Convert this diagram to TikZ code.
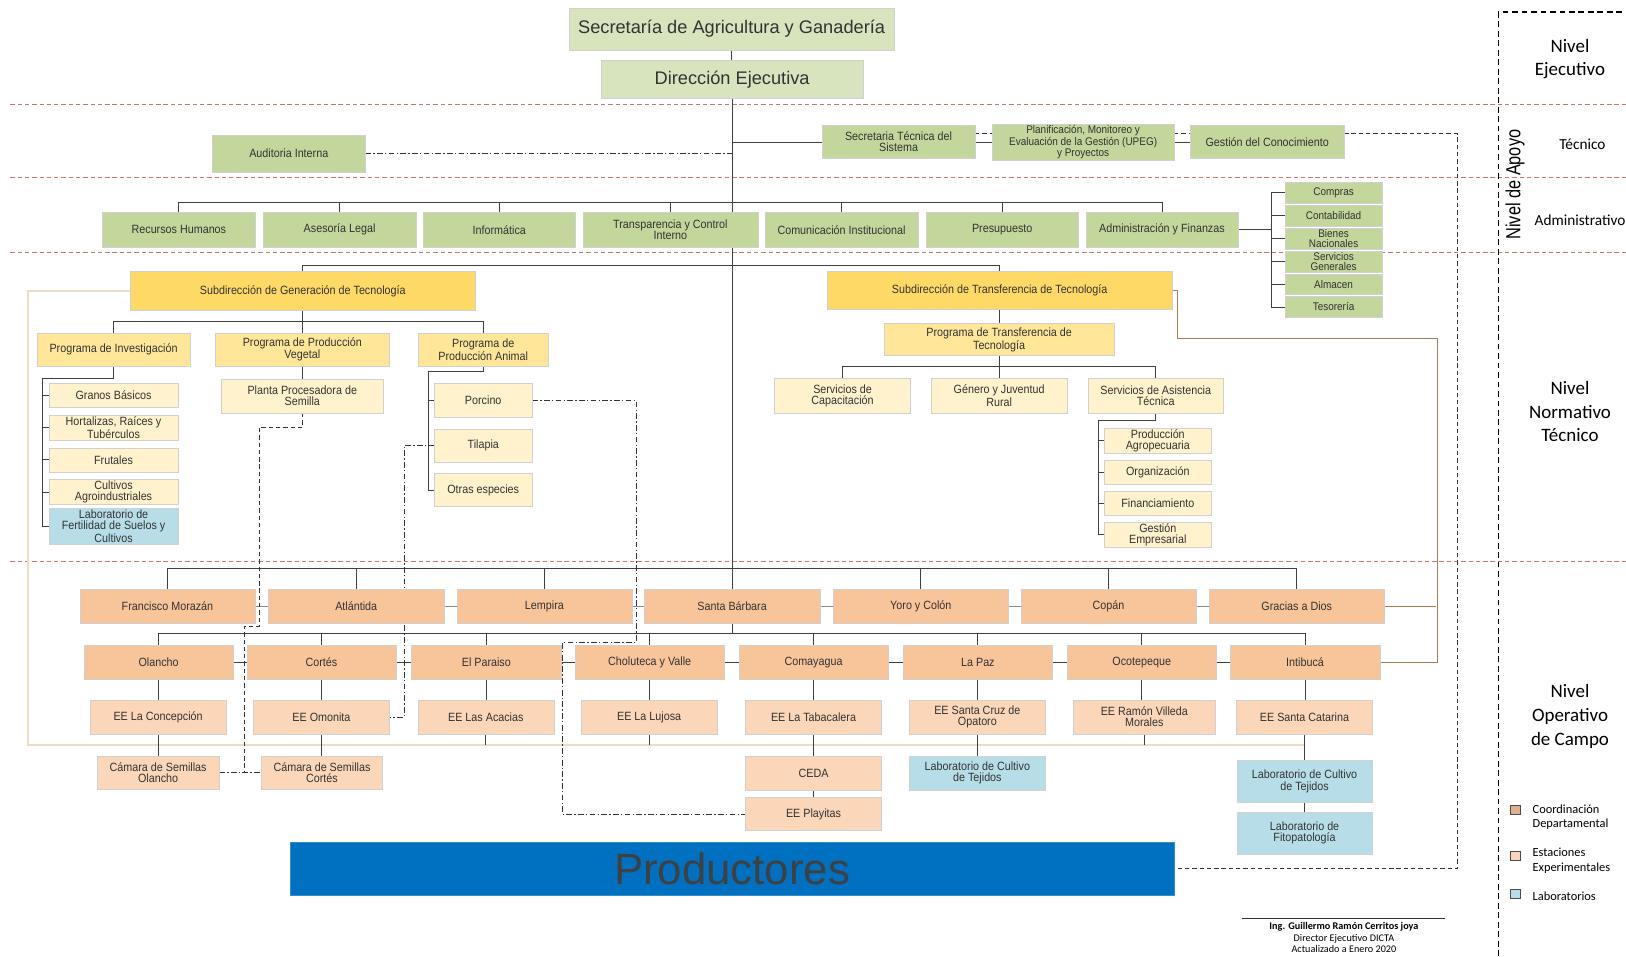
\documentclass[tikz,border=0pt]{standalone}
\usepackage{fontspec}
\setmainfont{Liberation Sans}[FakeStretch=0.9]
\newfontfamily\plainsans{Liberation Sans}
\newfontfamily\narrowsans{Liberation Sans}[FakeStretch=0.8]
\newfontfamily\calibri{Carlito}
\usetikzlibrary{calc,backgrounds}

\definecolor{grnA}{HTML}{D7E4BD}
\definecolor{grnB}{HTML}{C3D69B}
\definecolor{gldA}{HTML}{FFD966}
\definecolor{gldB}{HTML}{FFE699}
\definecolor{crm}{HTML}{FFF2CC}
\definecolor{orgA}{HTML}{F8C49A}
\definecolor{orgB}{HTML}{FBD6B8}
\definecolor{blu}{HTML}{B7DDE8}
\definecolor{prodblue}{HTML}{0070C0}
\definecolor{lvl}{HTML}{C47A72}
\definecolor{brn}{HTML}{B07A4E}
\definecolor{tanl}{HTML}{EEDDC4}

\tikzset{
  sz/.style 2 args={minimum width=#1*0.025cm, minimum height=#2*0.025cm},
  cell/.style={draw=black!18, line width=0.3pt, inner sep=1pt, align=center, text=black!80, font=\fontsize{8.2}{7.6}\selectfont},
  green1/.style={cell, fill=grnA, font=\plainsans\fontsize{12.5}{14}\selectfont},
  green2/.style={cell, fill=grnB},
  gold1/.style={cell, fill=gldA},
  gold2/.style={cell, fill=gldB},
  cream/.style={cell, fill=crm},
  dept/.style={cell, fill=orgA},
  station/.style={cell, fill=orgB},
  lab/.style={cell, fill=blu},
  link/.style={draw=black!75, line width=0.6pt},
  dotlink/.style={draw=black!80, line width=0.5pt, dash pattern=on 4pt off 1.5pt on 1pt off 1.5pt},
  dashlink/.style={draw=black!80, line width=0.5pt, dash pattern=on 3pt off 2pt},
  level/.style={draw=lvl, line width=0.5pt, dash pattern=on 3pt off 2pt},
  panel/.style={draw=black, line width=1.3pt, dash pattern=on 4pt off 2.5pt},
  tanline/.style={draw=tanl, line width=1.2pt},
  brnline/.style={draw=brn, line width=0.6pt},
  levelname/.style={align=center, font=\calibri\fontsize{13}{16.3}\selectfont},
  keytext/.style={anchor=west, align=left, font=\calibri\fontsize{8.5}{10}\selectfont},
  keybox/.style={draw=black!70, line width=0.4pt, minimum width=7pt, minimum height=6pt, inner sep=0pt},
  signtext/.style={font=\calibri\fontsize{7}{8}\selectfont},
}

\begin{document}
\begin{tikzpicture}[x=0.025cm, y=-0.025cm]
\useasboundingbox (0,0) rectangle (1568,922);

% nivel ejecutivo
\node[green1, sz={313}{40}] (sag) at (705.5,28) {Secretaría de Agricultura y Ganadería};
\node[green1, sz={252}{37}] (dir) at (706,76.5) {Dirección Ejecutiva};

% apoyo tecnico
\node[green2, sz={147}{36}] (aud) at (278.5,148) {Auditoria Interna};
\node[green2, sz={147}{32}] (stec) at (866.5,137) {Secretaria Técnica del\\Sistema};
\node[green2, sz={175}{32}, font=\fontsize{7.6}{7}\selectfont] (upeg) at (1044.5,137) {Planificación, Monitoreo y\\Evaluación de la Gestión (UPEG)\\y Proyectos};
\node[green2, sz={148}{32}] (gcon) at (1222,137) {Gestión del Conocimiento};

% apoyo administrativo
\foreach \n/\x/\t in {rrhh/172.5/Recursos Humanos, legal/327.5/Asesoría Legal, info/481.5/Informática, com/811.5/Comunicación Institucional, pres/966.5/Presupuesto, adm/1120.5/Administración y Finanzas}
  \node[green2, sz={147}{33}] (\n) at (\x,221.5) {\t};
\node[green2, sz={169}{33}] (transp) at (646.5,221.5) {Transparencia y Control\\Interno};
\foreach \n/\y/\t in {compras/186/Compras, conta/208/Contabilidad, bienes/230/Bienes\\Nacionales, servg/252/Servicios\\Generales, alm/274/Almacen, teso/296/Tesorería}
  \node[green2, sz={94}{20}, font=\fontsize{7.6}{6.8}\selectfont] (\n) at (1286,\y) {\t};

% normativo tecnico
\node[gold1, sz={332}{37}] (sgen) at (292,280.5) {Subdirección de Generación de Tecnología};
\node[gold1, sz={332}{37}] (strans) at (964,280) {Subdirección de Transferencia de Tecnología};
\node[gold2, sz={147}{32}] (pinv) at (109.5,337) {Programa de Investigación};
\node[gold2, sz={167}{32}] (pveg) at (291.5,337) {Programa de Producción\\Vegetal};
\node[gold2, sz={126}{32}] (pani) at (466,337) {Programa de\\Producción Animal};
\node[gold2, sz={221}{31}] (ptrans) at (963.5,327.5) {Programa de Transferencia de\\Tecnología};

\node[cream, sz={125}{23}] (granos) at (109.5,381.5) {Granos Básicos};
\node[cream, sz={125}{23}] (hort) at (109.5,412.5) {Hortalizas, Raíces y\\Tubérculos};
\node[cream, sz={125}{23}] (frut) at (109.5,443.5) {Frutales};
\node[cream, sz={125}{23}] (cult) at (109.5,474.5) {Cultivos\\Agroindustriales};
\node[lab, sz={125}{33}] (labf) at (109.5,507.5) {Laboratorio de\\Fertilidad de Suelos y\\Cultivos};
\node[cream, sz={157}{32}] (planta) at (291.5,382) {Planta Procesadora de\\Semilla};
\node[cream, sz={94}{32}] (porc) at (466,386) {Porcino};
\node[cream, sz={94}{32}] (tila) at (466,429.5) {Tilapia};
\node[cream, sz={94}{32}] (otras) at (466,472.5) {Otras especies};
\node[cream, sz={131}{33}] (scap) at (812.5,381.5) {Servicios de\\Capacitación};
\node[cream, sz={131}{33}] (genero) at (963.5,381.5) {Género y Juventud\\Rural};
\node[cream, sz={131}{33}] (sat) at (1114.5,381.5) {Servicios de Asistencia\\Técnica};
\node[cream, sz={103}{24}] (prod) at (1116.5,425) {Producción\\Agropecuaria};
\node[cream, sz={103}{23}] (org) at (1116.5,455.5) {Organización};
\node[cream, sz={103}{23}] (fin) at (1116.5,485.5) {Financiamiento};
\node[cream, sz={103}{23}] (gest) at (1116.5,515.5) {Gestión\\Empresarial};

% operativo de campo
\foreach \n/\x/\t in {fm/161.5/Francisco Morazán, atl/343.5/Atlántida, lem/525/Lempira, sb/706/Santa Bárbara, yoro/888/Yoro y Colón, cop/1069/Copán, gad/1250.5/Gracias a Dios}
  \node[dept, sz={169}{33}] (\n) at (\x,584.5) {\t};
\foreach \n/\x/\t in {ola/153/Olancho, cor/310/Cortés, par/469/El Paraiso, cho/626.5/Choluteca y Valle, coma/784.5/Comayagua, paz/943/La Paz, oco/1101/Ocotepeque, inti/1258.5/Intibucá}
  \node[dept, sz={144}{33}] (\n) at (\x,638.5) {\t};
\foreach \n/\x/\t in {ee1/152.5/EE La Concepción, ee2/310/EE Omonita, ee3/468.5/EE Las Acacias, ee4/626/EE La Lujosa, ee5/784.5/EE La Tabacalera, ee6/942.5/EE Santa Cruz de\\Opatoro, ee8/1258/EE Santa Catarina}
  \node[station, sz={131}{33}] (\n) at (\x,691.5) {\t};
\node[station, sz={137}{33}] (ee7) at (1103.5,691.5) {EE Ramón Villeda\\Morales};
\node[station, sz={117}{32}] (camO) at (152.5,745) {Cámara de Semillas\\Olancho};
\node[station, sz={117}{32}] (camC) at (310.5,745) {Cámara de Semillas\\Cortés};
\node[station, sz={131}{33}] (ceda) at (784.5,745.5) {CEDA};
\node[station, sz={131}{32}] (play) at (784.5,785) {EE Playitas};
\node[lab, sz={131}{33}] (labtA) at (942.5,745.5) {Laboratorio de Cultivo\\de Tejidos};
\node[lab, sz={130}{41}] (labtB) at (1258,753.5) {Laboratorio de Cultivo\\de Tejidos};
\node[lab, sz={130}{41}] (labfi) at (1258,803.5) {Laboratorio de\\Fitopatología};
\node[cell, fill=prodblue, draw=prodblue!80!white, sz={852}{51}, text=black!75, font=\plainsans\fontsize{30}{30}\selectfont] (prodr) at (706,837.5) {Productores};

% columna de niveles
\node[levelname] (nejec) at (1514,57) {Nivel\\Ejecutivo};
\node[rotate=90, font=\narrowsans\fontsize{14}{14}\selectfont] (napoyo) at (1461,178) {Nivel de Apoyo};
\node[font=\calibri\fontsize{10.5}{12}\selectfont] (ntec) at (1526,139) {Técnico};
\node[anchor=west, font=\calibri\fontsize{10.5}{12}\selectfont] (nadm) at (1475,212) {Administrativo};
\node[levelname] (nnorm) at (1514,397) {Nivel\\Normativo\\Técnico};
\node[levelname] (noper) at (1514,691) {Nivel\\Operativo\\de Campo};
\node[keybox, fill=orgA!90!black] (keyA) at (1461,781) {};
\node[keytext] (keyAt) at (1473,788) {Coordinación\\Departamental};
\node[keybox, fill=orgB] (keyB) at (1461,825) {};
\node[keytext] (keyBt) at (1473,830) {Estaciones\\Experimentales};
\node[keybox, fill=blu] (keyC) at (1461,862) {};
\node[keytext] (keyCt) at (1473,864) {Laboratorios};

% firma
\node[signtext, font=\calibri\bfseries\fontsize{7}{8}\selectfont] (sign) at (1296,894) {Ing. Guillermo Ramón Cerritos joya};
\node[signtext] (signrole) at (1296,905) {Director Ejecutivo DICTA};
\node[signtext] (signdate) at (1296,915) {Actualizado a Enero 2020};
\draw[black!80, line width=0.4pt] (1198,886) -- (1393,886);

\begin{scope}[on background layer]
\foreach \y in {101,171,243,541} \draw[level] (10,\y) -- (1568,\y);
\draw[panel] (1445,922) -- (1445,12) -- (1568,12);

% linea central y apoyo
\draw[link] (sag.south) -- (sag.south |- dir.north);
\draw[link] (dir.south) -- (dir.south |- sb.north);
\draw[link] (stec.west) -- (stec.west -| dir.south);
\draw[dotlink] (aud.east) -- (aud.east -| dir.south);
\draw[link] (stec.east) -- (upeg.west);
\draw[link] (upeg.east) -- (gcon.west);
\draw[dashlink] ($(stec.east)+(0,-8)$) -- ($(upeg.west)+(0,-8)$);
\draw[dashlink] ($(upeg.east)+(0,-8)$) -- ($(gcon.west)+(0,-8)$);
\draw[dashlink] ($(gcon.east)+(0,-8)$) -| ($(prodr.east)+(273,0)$) -- (prodr.east);
\draw[link] (rrhh.north) -- ++(0,-10) -| (adm.north);
\foreach \n in {legal,info,transp,com,pres} \draw[link] (\n.north) -- ++(0,-10);
\draw[link] (adm.east) -- ++(32,0);
\draw[link] (compras.west) -- ++(-13,0) |- (teso.west);
\foreach \n in {conta,bienes,servg,alm} \draw[link] (\n.west) -- ++(-13,0);

% normativo
\draw[link] (sgen.north) -- ++(0,-6) -| (strans.north);
\draw[link] (pinv.north) -- ++(0,-11) -| (pani.north);
\draw[link] (sgen.south) -- (sgen.south |- pveg.north);
\draw[link] (pinv.south) -- ++(0,12) -| ($(labf.west)+(-6,0)$) -- (labf.west);
\foreach \n in {granos,hort,frut,cult} \draw[link] (\n.west) -- ++(-6,0);
\draw[link] (pveg.south) -- (pveg.south |- planta.north);
\draw[link] (pani.south) -- ++(0,5) -| ($(otras.west)+(-6,0)$) -- (otras.west);
\foreach \n in {porc,tila} \draw[link] (\n.west) -- ++(-6,0);
\draw[link] (strans.south) -- (strans.south |- ptrans.north);
\draw[link] (scap.north) -- ++(0,-11) -| (sat.north);
\draw[link] (ptrans.south) -- (ptrans.south |- genero.north);
\draw[link] (sat.south) -- ++(0,7) -| ($(gest.west)+(-6,0)$) -- (gest.west);
\foreach \n in {prod,org,fin} \draw[link] (\n.west) -- ++(-6,0);

% operativo
\draw[link] (fm.north) -- ++(0,-20) -| (gad.north);
\foreach \n in {atl,lem,yoro,cop} \draw[link] (\n.north) -- ++(0,-20);
\draw[link] (sb.south) -- ++(0,10);
\draw[link] (ola.north) -- ++(0,-11) -| (inti.north);
\foreach \n in {cor,par,cho,coma,paz,oco} \draw[link] (\n.north) -- ++(0,-11);
\foreach \a/\b in {fm/atl,atl/lem,lem/sb,sb/yoro,yoro/cop,cop/gad}
  \draw[link, draw=black!45] (\a.east) -- (\b.west);
\foreach \a/\b in {ola/cor,cor/par,par/cho,cho/coma,coma/paz,paz/oco,oco/inti}
  \draw[link] (\a.east) -- (\b.west);
\draw[tanline] (sgen.west) -- ++(-99,0) |- ($(ee8.south)+(0,10)$);
\foreach \a/\b in {ola/ee1,cor/ee2,par/ee3,cho/ee4,coma/ee5,paz/ee6,oco/ee7,inti/ee8,ee1/camO,ee2/camC,ee5/ceda,ceda/play,ee6/labtA,ee8/labtB,labtB/labfi}
  \draw[link] (\a.south) -- (\a.south |- \b.north);
\foreach \n in {ee3,ee4,ee7} \draw[link] (\n.south) -- ++(0,10);
\draw[brnline] (strans.east) -- ++(5,0) |- ($(inti.east)+(55,-312)$) |- (inti.east);
\draw[brnline] (gad.east) -- ++(50,0);

% enlaces de apoyo
\draw[dotlink] (porc.east) -- ++(100,0) |- ($(ee4.west)+(-18,-72)$) |- (play.west);
\draw[dotlink] (tila.west) -- ++(-29,0) |- (ee2.east);
\draw[dashlink] (planta.south) -- ++(0,14) -| ($(camC.west)+(-2,-141)$) -| ($(camC.west)+(-16,0)$);
\draw[dotlink] (camO.east) -- (camC.west);
\end{scope}
\end{tikzpicture}
\end{document}
